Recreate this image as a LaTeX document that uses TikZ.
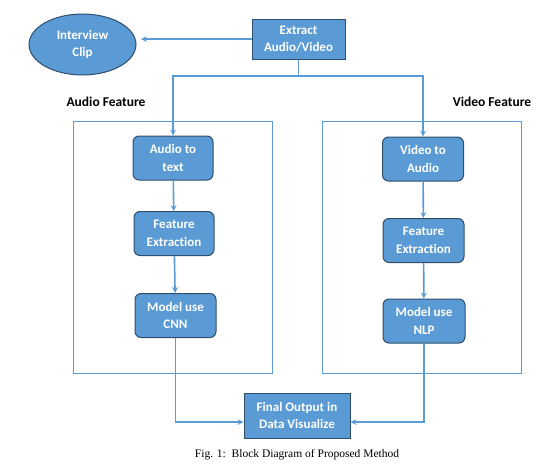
\documentclass[tikz,border=0pt]{standalone}
\usepackage{fontspec}
\setmainfont{Liberation Serif}
\newfontfamily\boxfont[Ligatures=NoCommon]{Carlito}
\usetikzlibrary{shapes.geometric}
\definecolor{officeblue}{HTML}{5B9BD5}
\definecolor{boxedge}{HTML}{2F4E6B}
\begin{document}
\begin{tikzpicture}[x=1pt,y=-1pt,>=stealth,
	blockbox/.style={draw=boxedge,fill=officeblue,line width=1pt,text=white,font=\boxfont\bfseries\fontsize{13}{17.5}\selectfont,align=center,inner sep=0pt},
	stepbox/.style={blockbox,rounded corners=6pt,minimum width=80,minimum height=44},
	panel/.style={draw=officeblue,line width=1pt,inner sep=0pt},
	link/.style={draw=officeblue,line width=1.6pt}]
	\useasboundingbox (0,0) rectangle (551,474);
	% side panels
	\node[panel,minimum width=199,minimum height=252] (apanel) at (172.5,247) {};
	\node[panel,minimum width=199,minimum height=252] (vpanel) at (421.5,247) {};
	\node[font=\boxfont\bfseries\fontsize{13.5}{14}\selectfont] (alabel) at (106,102) {Audio Feature};
	\node[font=\boxfont\bfseries\fontsize{13.5}{14}\selectfont] (vlabel) at (492,102) {Video Feature};
	% top
	\node[blockbox,ellipse,minimum width=107,minimum height=61] (clip) at (82.5,44.5) {Interview\\Clip};
	\node[blockbox,minimum width=93,minimum height=40] (extract) at (298.5,39) {Extract\\Audio/Video};
	\coordinate (split) at (298.5,76);
	\coordinate (cliptip) at (141,39);
	% audio side
	\node[stepbox] (a2t) at (173,158) {Audio to\\text};
	\node[stepbox] (afeat) at (174,233.5) {Feature\\Extraction};
	\node[stepbox,minimum width=81] (cnn) at (175.5,315.5) {Model use\\CNN};
	% video side
	\node[stepbox,minimum width=81] (v2a) at (423,159) {Video to\\Audio};
	\node[stepbox,minimum width=81] (vfeat) at (423.5,240.5) {Feature\\Extraction};
	\node[stepbox,minimum width=82] (nlp) at (424,321) {Model use\\NLP};
	% output
	\node[blockbox,minimum width=106,minimum height=45] (final) at (297,415.5) {Final Output in\\Data Visualize};
	\node[font=\fontsize{11.5}{13}\selectfont] (caption) at (297,455) {Fig. 1:\ \ Block Diagram of Proposed Method};
	% connectors
	\draw[link,->] (extract.west) -- (cliptip);
	\draw[link] (extract.south) -- (split);
	\draw[link,->] (split) -| (a2t.north);
	\draw[link,->] (split) -| (v2a.north);
	\draw[link,->] (a2t) -- (afeat);
	\draw[link,->] (afeat) -- (cnn);
	\draw[link,->] (v2a) -- (vfeat);
	\draw[link,->] (vfeat) -- (nlp);
	\draw[link,->] (cnn.south) |- ([yshift=-6.5pt]final.west);
	\draw[link,->] (nlp.south) |- ([yshift=-6.5pt]final.east);
\end{tikzpicture}
\end{document}
